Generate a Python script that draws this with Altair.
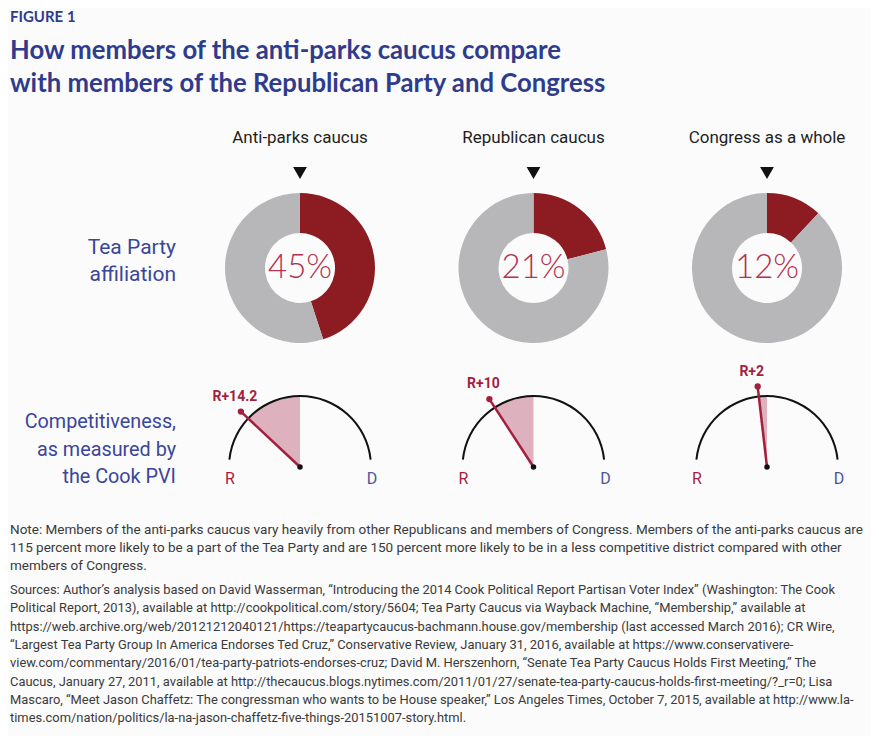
import math
import altair as alt
import pandas as pd

# ---------------- data ----------------
groups = ["Anti-parks caucus", "Republican caucus", "Congress as a whole"]
tea_party_pct = [45, 21, 12]
pvi_r = [14.2, 10, 2]
pvi_labels = ["R+14.2", "R+10", "R+2"]

figure_label = ["FIGURE 1"]
title_lines = [
    "How members of the anti-parks caucus compare",
    "with members of the Republican Party and Congress",
]
row1_lines = ["Tea Party", "affiliation"]
row2_lines = ["Competitiveness,", "as measured by", "the Cook PVI"]
note_lines = [
    "Note: Members of the anti-parks caucus vary heavily from other Republicans and members of Congress. Members of the anti-parks caucus are",
    "115 percent more likely to be a part of the Tea Party and are 150 percent more likely to be in a less competitive district compared with other",
    "members of Congress.",
]
source_lines = [
    "Sources: Author\u2019s analysis based on David Wasserman, \u201cIntroducing the 2014 Cook Political Report Partisan Voter Index\u201d (Washington: The Cook",
    "Political Report, 2013), available at http://cookpolitical.com/story/5604; Tea Party Caucus via Wayback Machine, \u201cMembership,\u201d available at",
    "https://web.archive.org/web/20121212040121/https://teapartycaucus-bachmann.house.gov/membership (last accessed March 2016); CR Wire,",
    "\u201cLargest Tea Party Group In America Endorses Ted Cruz,\u201d Conservative Review, January 31, 2016, available at https://www.conservativere-",
    "view.com/commentary/2016/01/tea-party-patriots-endorses-cruz; David M. Herszenhorn, \u201cSenate Tea Party Caucus Holds First Meeting,\u201d The",
    "Caucus, January 27, 2011, available at http://thecaucus.blogs.nytimes.com/2011/01/27/senate-tea-party-caucus-holds-first-meeting/?_r=0; Lisa",
    "Mascaro, \u201cMeet Jason Chaffetz: The congressman who wants to be House speaker,\u201d Los Angeles Times, October 7, 2015, available at http://www.la-",
    "times.com/nation/politics/la-na-jason-chaffetz-five-things-20151007-story.html.",
]

# ---------------- styles ----------------
FONT = "Roboto, sans-serif"
TITLE_FONT = "Lato, Open Sans, sans-serif"
BLUE = "#2f3b8c"
LABEL_BLUE = "#3a4699"
DARK_RED = "#8c1b22"
GRAY = "#b7b7b9"
PCT_RED = "#b3324f"
NEEDLE = "#a21f3e"
PINK = "#d9a8b7"

W, H = 879, 744
xs = alt.Scale(domain=[0, W], range=[-8, W - 8], nice=False, zero=False)
ys = alt.Scale(domain=[0, H], range=[-8, H - 8], nice=False, zero=False)

PANEL_X0, PANEL_DX = 300, 233.5
DONUT_Y, GAUGE_Y = 268, 467
DEG_PER_PT = 3.3
GAUGE_R = 71
NEEDLE_L = 81
TWO_PI = 2 * math.pi

df = pd.DataFrame({
    "group": groups,
    "idx": list(range(len(groups))),
    "tea": tea_party_pct,
    "pvi": pvi_r,
    "pvi_label": pvi_labels,
})
df["pct_label"] = df["tea"].astype(str) + "%"

base = alt.Chart(df).transform_calculate(
    cx=f"{PANEL_X0} + {PANEL_DX} * datum.idx",
    dy=f"{DONUT_Y}",
    gy=f"{GAUGE_Y}",
    zero="0",
    full="100",
    lean="-datum.pvi",
    ang=f"-datum.pvi * {DEG_PER_PT} * PI / 180",
)
X = lambda f: alt.X(f"{f}:Q", scale=xs, axis=None)
Y = lambda f: alt.Y(f"{f}:Q", scale=ys, axis=None)

# donut theta scale: percent -> radians
ts = alt.Scale(domain=[0, 100], range=[0, TWO_PI])
donut_red = base.mark_arc(innerRadius=35, outerRadius=75, color=DARK_RED).encode(
    x=X("cx"), y=Y("dy"),
    theta=alt.Theta("zero:Q", scale=ts, stack=None), theta2="tea:Q",
)
donut_gray = base.mark_arc(innerRadius=35, outerRadius=75, color=GRAY).encode(
    x=X("cx"), y=Y("dy"),
    theta=alt.Theta("tea:Q", scale=ts, stack=None), theta2="full:Q",
)
pct_text = base.mark_text(font=TITLE_FONT, fontSize=33, fontWeight=300, color=PCT_RED,
                          baseline="middle", align="center").encode(
    x=X("cx"), y=Y("dy"), text="pct_label:N")

head_text = base.transform_calculate(hy="138").mark_text(
    font=FONT, fontSize=17, color="#1e1e1e", baseline="middle", align="center").encode(
    x=X("cx"), y=Y("hy"), text="group:N")
head_tri = base.transform_calculate(ty="173").mark_point(
    shape="triangle-down", filled=True, size=190, color="#111111", opacity=1).encode(
    x=X("cx"), y=Y("ty"))

# gauge: lean (points) -> radians, R to the left
K = 30
gs = alt.Scale(domain=[-K, K],
               range=[TWO_PI - math.radians(K * DEG_PER_PT), TWO_PI + math.radians(K * DEG_PER_PT)])
sector = base.mark_arc(innerRadius=0, outerRadius=GAUGE_R, color=PINK, opacity=0.9).encode(
    x=X("cx"), y=Y("gy"),
    theta=alt.Theta("lean:Q", scale=gs, stack=None), theta2="zero:Q",
)
outline = base.mark_arc(innerRadius=GAUGE_R - 1, outerRadius=GAUGE_R + 1, color="#111111",
                        theta=TWO_PI - math.radians(84), theta2=TWO_PI + math.radians(84)).encode(
    x=X("cx"), y=Y("gy"))

needle_base = base.transform_calculate(
    tx=f"datum.cx + {NEEDLE_L} * sin(datum.ang)",
    ty=f"datum.gy - {NEEDLE_L} * cos(datum.ang)",
)
needle = needle_base.mark_rule(color=NEEDLE, strokeWidth=2.5).encode(
    x=X("cx"), y=Y("gy"), x2="tx:Q", y2="ty:Q")
tip = needle_base.mark_circle(color=NEEDLE, size=40, opacity=1).encode(x=X("tx"), y=Y("ty"))
center = base.mark_circle(color="#111111", size=30, opacity=1).encode(x=X("cx"), y=Y("gy"))
tip_label = needle_base.transform_calculate(
    lx="datum.tx - 6", ly="datum.ty - 15").mark_text(
    font=FONT, fontSize=14, fontWeight="bold", color=NEEDLE, align="center", baseline="middle").encode(
    x=X("lx"), y=Y("ly"), text="pvi_label:N")

rlab = base.transform_calculate(rx="datum.cx - 70", ry="479", t="'R'").mark_text(
    font=FONT, fontSize=16, color=NEEDLE, align="center", baseline="middle").encode(
    x=X("rx"), y=Y("ry"), text="t:N")
dlab = base.transform_calculate(rx="datum.cx + 72", ry="479", t="'D'").mark_text(
    font=FONT, fontSize=16, color="#4a55a0", align="center", baseline="middle").encode(
    x=X("rx"), y=Y("ry"), text="t:N")


def text_block(lines, x, y0, lh, align="left", **style):
    d = pd.DataFrame({"text": lines, "i": list(range(len(lines)))})
    return alt.Chart(d).transform_calculate(
        px=f"{x}", py=f"{y0} + datum.i * {lh}"
    ).mark_text(align=align, baseline="middle", **style).encode(
        x=X("px"), y=Y("py"), text="text:N")


fig = text_block(figure_label, 10, 17, 0, font=TITLE_FONT, fontSize=15, fontWeight="bold", color=BLUE)
title = text_block(title_lines, 10, 51, 33, font=TITLE_FONT, fontSize=25.7, fontWeight="bold", color=BLUE)
row1 = text_block(row1_lines, 176, 248, 27, align="right", font=FONT, fontSize=21, color=LABEL_BLUE)
row2 = text_block(row2_lines, 176, 422, 27.5, align="right", font=FONT, fontSize=19.8, color=LABEL_BLUE)
note = text_block(note_lines, 10, 530, 18, font=FONT, fontSize=13.5, color="#3a3a3a")
src = text_block(source_lines, 10, 590, 18.3, font=FONT, fontSize=12.9, color="#3a3a3a")

chart = alt.layer(
    donut_red, donut_gray, pct_text, head_text, head_tri,
    sector, outline, needle, tip, center, tip_label, rlab, dlab,
    fig, title, row1, row2, note, src,
).resolve_scale(theta="independent").properties(
    width=W - 16, height=H - 16, padding=0,
    autosize=alt.AutoSizeParams(type="none"),
    background="#fbfbfb",
).configure_view(strokeWidth=0)

chart.save("out.html", embed_options={"renderer": "svg", "actions": False})
